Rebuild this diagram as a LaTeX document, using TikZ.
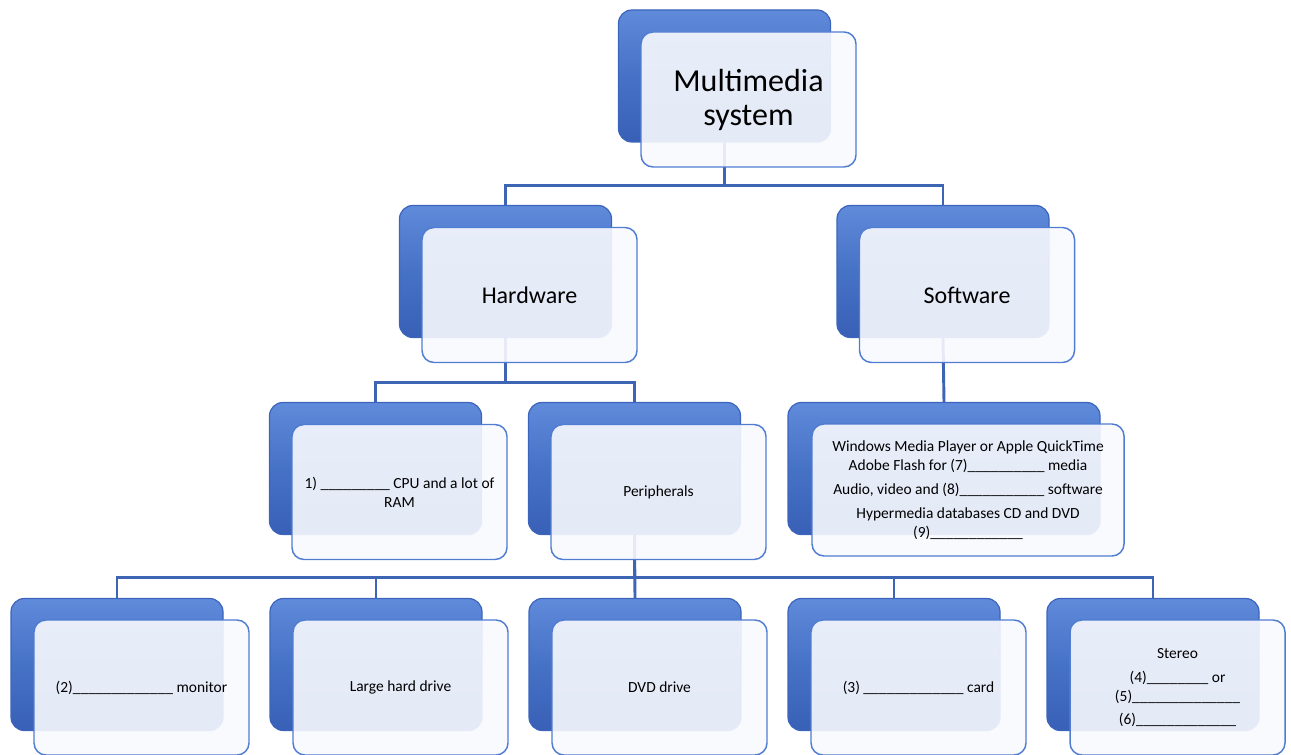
\documentclass[tikz,border=0pt]{standalone}
\usepackage{fontspec}
\setmainfont{Carlito}
\newcommand{\smalltxt}{\fontsize{11.6}{14.25}\selectfont}

\begin{document}
\begin{tikzpicture}[
    x=0.75pt,y=-0.75pt,
    every path/.append style ={line width = 0.9pt,},
    backbox/.style ={
        draw={rgb, 255:red, 60; green, 100; blue, 188 },
        top color={rgb, 255:red, 96; green, 138; blue, 218 },
        bottom color={rgb, 255:red, 56; green, 96; blue, 182 },
        middle color={rgb, 255:red, 70; green, 114; blue, 198 },
        rounded corners=10pt,
        minimum width=159pt, minimum height=99pt, inner sep=0pt,
    },
    frontbox/.style ={
        draw={rgb, 255:red, 80; green, 124; blue, 210 },
        line width=1.1pt,
        fill={rgb, 255:red, 248; green, 249; blue, 254 },
        fill opacity=0.9, text opacity=1,
        rounded corners=9pt,
        minimum width=161.25pt, minimum height=101.25pt, inner sep=0pt,
        align=center, font=\smalltxt,
    },
    link/.style ={
        draw={rgb, 255:red, 62; green, 100; blue, 180 },
        line width=2.2pt,
    },
]
    \useasboundingbox (0,0) rectangle (1291,755);

    % back boxes
    \node [backbox] (ms)   at (724.5,76) {};
    \node [backbox] (hw)   at (505.5,271.5) {};
    \node [backbox] (sw)   at (943,271.5) {};
    \node [backbox] (cpu)  at (375.5,468.5) {};
    \node [backbox] (per)  at (634.5,468.5) {};
    \node [backbox, minimum width=234pt] (swl) at (944,468.5) {};
    \node [backbox] (mon)  at (117,664.5) {};
    \node [backbox] (hdd)  at (376,664.5) {};
    \node [backbox] (dvd)  at (635,664.5) {};
    \node [backbox] (card) at (894,664.5) {};
    \node [backbox] (ster) at (1153,664.5) {};

    % connectors
    \draw [link] (ms.south) -- ++(0,43) -| (hw.north);
    \draw [link] (ms.south) ++(0,43) -| (sw.north);
    \draw [link] (hw.south) -- ++(0,44) -| (cpu.north);
    \draw [link] (hw.south) ++(0,44) -| (per.north);
    \draw [link] (sw.south) -- (swl.north);
    \draw [link] (per.south) -- ++(0,42) -| (mon.north);
    \draw [link] (per.south) ++(0,42) -| (hdd.north);
    \draw [link] (per.south) -- (dvd.north);
    \draw [link] (per.south) ++(0,42) -| (card.north);
    \draw [link] (per.south) ++(0,42) -| (ster.north);

    % front boxes with text
    \node [frontbox, font=\fontsize{24}{25.5}\selectfont] (msf) at ([shift={(24,23.5)}]ms.center)
        {Multimedia\\system};
    \node [frontbox, font=\fontsize{18}{20}\selectfont] (hwf) at ([shift={(24,23.5)}]hw.center) {Hardware};
    \node [frontbox, font=\fontsize{18}{20}\selectfont] (swf) at ([shift={(24,23.5)}]sw.center) {Software};
    \node [frontbox] (cpuf) at ([shift={(24,23.5)}]cpu.center)
        {1) \_\_\_\_\_\_\_\_\_ CPU and a lot of\\RAM};
    \node [frontbox] (perf) at ([shift={(24,23.5)}]per.center) {Peripherals};
    \node [frontbox, minimum width=234pt, minimum height=99pt] (swlf) at ([shift={(24,21.5)}]swl.center) {
        Windows Media Player or Apple QuickTime\\
        Adobe Flash for (7)\_\_\_\_\_\_\_\_\_\_ media\\[3.75pt]
        Audio, video and (8)\_\_\_\_\_\_\_\_\_\_\_ software\\[3.75pt]
        Hypermedia databases CD and DVD\\
        (9)\_\_\_\_\_\_\_\_\_\_\_\_
    };
    \node [frontbox] (monf)  at ([shift={(24.5,23)}]mon.center)
        {(2)\_\_\_\_\_\_\_\_\_\_\_\_\_ monitor};
    \node [frontbox] (hddf)  at ([shift={(24.5,23)}]hdd.center) {Large hard drive};
    \node [frontbox] (dvdf)  at ([shift={(24.5,23)}]dvd.center) {DVD drive};
    \node [frontbox] (cardf) at ([shift={(24.5,23)}]card.center)
        {(3) \_\_\_\_\_\_\_\_\_\_\_\_\_ card};
    \node [frontbox] (sterf) at ([shift={(24.5,23)}]ster.center) {
        Stereo\\[3.75pt]
        (4)\_\_\_\_\_\_\_\_ or\\
        (5)\_\_\_\_\_\_\_\_\_\_\_\_\_\_\\[2.5pt]
        (6)\_\_\_\_\_\_\_\_\_\_\_\_\_
    };
\end{tikzpicture}
\end{document}
